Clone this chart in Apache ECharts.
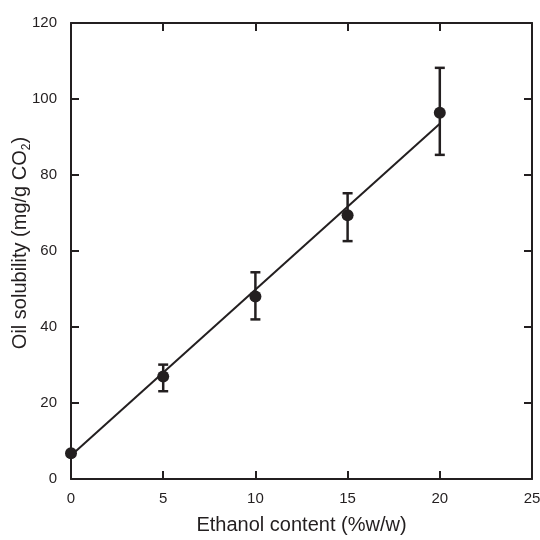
<!DOCTYPE html>
<html>
<head>
<meta charset="utf-8">
<script src="https://cdn.jsdelivr.net/npm/echarts@6/dist/echarts.min.js"></script>
<style>html,body{margin:0;padding:0;background:#fff}#c{width:540px;height:540px}</style>
</head>
<body>
<div id="c"></div>
<script>
const ethanol = [0, 5, 10, 15, 20];
const solubility = [6.8, 27.0, 48.0, 69.4, 96.4];
const errLow = [6.8, 23.1, 42.0, 62.6, 85.3];
const errHigh = [6.8, 30.1, 54.4, 75.2, 108.2];
const fitX = [0, 20];
const fitY = [6.2, 93.5];
const xTicks = [0, 5, 10, 15, 20, 25];
const yTicks = [0, 20, 40, 60, 80, 100, 120];

const C = '#231f20';
const FONT = 'Liberation Sans, Arial, Helvetica, sans-serif';
const chart = echarts.init(document.getElementById('c'));

const axisCommon = {
  axisLine: {show: true, onZero: false, lineStyle: {color: C, width: 2}},
  axisTick: {show: true, inside: true, length: 8, lineStyle: {color: C, width: 2}},
  splitLine: {show: false},
  nameMoveOverlap: false
};

chart.setOption({
  animation: false,
  backgroundColor: '#fff',
  grid: {left: 71, right: 8, top: 23, bottom: 61, containLabel: false, outerBoundsMode: 'none'},
  xAxis: [
    Object.assign({
      type: 'value', min: xTicks[0], max: xTicks[xTicks.length - 1], interval: 5,
      position: 'bottom',
      axisLabel: {color: C, fontSize: 15, fontFamily: FONT, margin: 12, showMaxLabel: true, showMinLabel: true},
      name: 'Ethanol content (%w/w)', nameLocation: 'middle', nameGap: 36,
      nameTextStyle: {color: C, fontSize: 20, fontFamily: FONT}
    }, axisCommon),
    Object.assign({
      type: 'value', min: xTicks[0], max: xTicks[xTicks.length - 1], interval: 5,
      position: 'top', axisLabel: {show: false}
    }, axisCommon)
  ],
  yAxis: [
    Object.assign({
      type: 'value', min: yTicks[0], max: yTicks[yTicks.length - 1], interval: 20,
      position: 'left',
      axisLabel: {color: C, fontSize: 15, fontFamily: FONT, margin: 14},
      name: '{a|Oil solubility (mg/g CO}{s|2}{a|)}', nameLocation: 'middle', nameGap: 38,
      nameRotate: 90,
      nameTextStyle: {
        color: C, fontSize: 20, fontFamily: FONT, padding: [0, 0, 0, 16],
        rich: {
          a: {color: C, fontSize: 20, fontFamily: FONT, lineHeight: 23, verticalAlign: 'top'},
          s: {color: C, fontSize: 12, fontFamily: FONT, lineHeight: 12, verticalAlign: 'bottom', padding: [13, 0, 0, 0]}
        }
      }
    }, axisCommon),
    Object.assign({
      type: 'value', min: yTicks[0], max: yTicks[yTicks.length - 1], interval: 20,
      position: 'right', axisLabel: {show: false}
    }, axisCommon)
  ],
  series: [
    {
      type: 'line', xAxisIndex: 0, yAxisIndex: 0,
      data: fitX.map((x, i) => [x, fitY[i]]),
      symbol: 'none', lineStyle: {color: C, width: 2}, z: 2
    },
    {
      type: 'custom', xAxisIndex: 0, yAxisIndex: 0,
      data: ethanol.map((x, i) => [x, errLow[i], errHigh[i]]),
      renderItem: function (params, api) {
        const lo = api.coord([api.value(0), api.value(1)]);
        const hi = api.coord([api.value(0), api.value(2)]);
        if (Math.abs(lo[1] - hi[1]) < 1) return null;
        const w = 5;
        const st = {stroke: C, lineWidth: 2.5};
        return {
          type: 'group',
          children: [
            {type: 'line', shape: {x1: lo[0], y1: lo[1], x2: hi[0], y2: hi[1]}, style: st},
            {type: 'line', shape: {x1: lo[0] - w, y1: lo[1], x2: lo[0] + w, y2: lo[1]}, style: st},
            {type: 'line', shape: {x1: hi[0] - w, y1: hi[1], x2: hi[0] + w, y2: hi[1]}, style: st}
          ]
        };
      },
      z: 3
    },
    {
      type: 'scatter', xAxisIndex: 0, yAxisIndex: 0,
      data: ethanol.map((x, i) => [x, solubility[i]]),
      symbol: 'circle', symbolSize: 12,
      itemStyle: {color: C, opacity: 1}, z: 4
    }
  ]
});
</script>
</body>
</html>
